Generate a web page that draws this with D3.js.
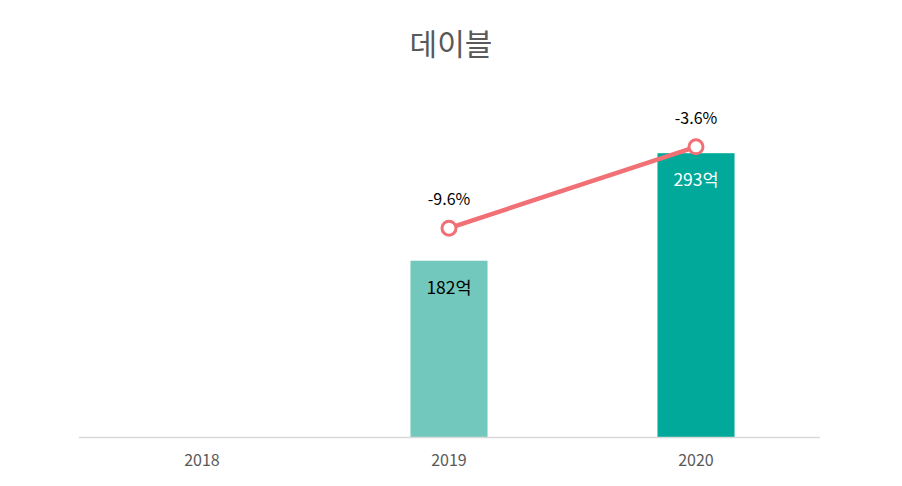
<!DOCTYPE html>
<html><head><meta charset="utf-8">
<script src="https://cdn.jsdelivr.net/npm/d3@7"></script>
<style>
html,body{margin:0;padding:0;background:#fff;}
svg{display:block;font-family:"Noto Sans CJK KR","Noto Sans",sans-serif;}
</style></head>
<body><svg id="c" width="902" height="486"></svg>
<script>
const title = "데이블";
const categories = ["2018", "2019", "2020"];
const revenue = [null, 182, 293];          // 억
const growth = [null, -9.6, -3.6];         // %
const barColors = ["#72C8BC", "#72C8BC", "#00A99A"];
const barLabelColors = ["#000", "#000", "#fff"];

const svg = d3.select("#c");
const plotLeft = 78.5, plotRight = 819.5, plotTop = 98, plotBottom = 437;

const x = d3.scaleBand().domain(categories).range([plotLeft, plotRight]).paddingInner(0.688).paddingOuter(0.344);
const y = d3.scaleLinear().domain([0, 350]).range([plotBottom, plotTop]);
const y2 = d3.scaleLinear().domain([-25, 0]).range([plotBottom, plotTop]);

svg.append("text").attr("x", 451).attr("y", 55).attr("text-anchor", "middle")
  .attr("font-size", 30).attr("fill", "#595959").text(title);

const data = categories.map((c, i) => ({c, v: revenue[i], g: growth[i], i}));
const bars = data.filter(d => d.v != null);

svg.selectAll("rect.bar").data(bars).enter().append("rect")
  .attr("x", d => x(d.c)).attr("width", x.bandwidth())
  .attr("y", d => y(d.v)).attr("height", d => y(0) - y(d.v))
  .attr("fill", d => barColors[d.i]);

svg.selectAll("text.bl").data(bars).enter().append("text")
  .attr("x", d => x(d.c) + x.bandwidth() / 2).attr("y", d => y(d.v) + 33)
  .attr("text-anchor", "middle").attr("font-size", 17.5)
  .attr("fill", d => barLabelColors[d.i]).text(d => d.v + "억");

// axis
const axis = svg.append("g").attr("transform", `translate(0,${plotBottom})`)
  .call(d3.axisBottom(x).tickSize(0).tickPadding(18));
axis.select(".domain").attr("stroke", "#d9d9d9").attr("stroke-width", 1.5);
axis.selectAll("text").attr("font-size", 16).attr("fill", "#595959")
  .attr("font-family", "'Noto Sans CJK KR','Noto Sans',sans-serif");

const pts = data.filter(d => d.g != null);
const line = d3.line().x(d => x(d.c) + x.bandwidth() / 2).y(d => y2(d.g));
svg.append("path").datum(pts).attr("d", line).attr("fill", "none")
  .attr("stroke", "#F07075").attr("stroke-width", 4.5);
svg.selectAll("circle.pt").data(pts).enter().append("circle")
  .attr("cx", d => x(d.c) + x.bandwidth() / 2).attr("cy", d => y2(d.g))
  .attr("r", 7).attr("fill", "#fff").attr("stroke", "#F07075").attr("stroke-width", 3);
svg.selectAll("text.gl").data(pts).enter().append("text")
  .attr("x", d => x(d.c) + x.bandwidth() / 2).attr("y", d => y2(d.g) - 23)
  .attr("text-anchor", "middle").attr("font-size", 16).attr("fill", "#000")
  .text(d => d.g.toFixed(1) + "%");
</script></body></html>
